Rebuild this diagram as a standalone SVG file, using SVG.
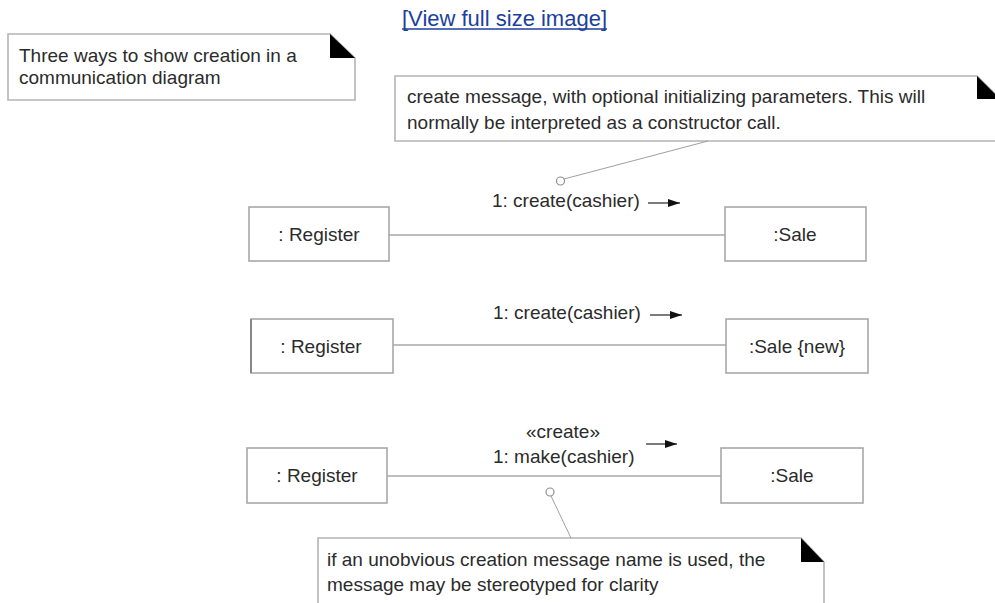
<svg xmlns="http://www.w3.org/2000/svg" width="995" height="603" viewBox="0 0 995 603">
<defs>
<style>
text{font-family:"Liberation Sans",Arial,sans-serif;font-size:19px;fill:#2b2b2b}
.box{fill:#fff;stroke:#a8a8a8;stroke-width:1.6}
.note{fill:#fff;stroke:#b4b4b4;stroke-width:1.6}
.fold{fill:#000}
.link{stroke:#a8a8a8;stroke-width:1.6;fill:none}
.anchor{stroke:#a0a0a0;stroke-width:1;fill:none}
.dot{fill:#fff;stroke:#909090;stroke-width:1.2}
.msg{stroke:#333;stroke-width:1.3}
.ctr{text-anchor:middle}
</style>
<marker id="ah" viewBox="0 0 12 8" refX="12" refY="4" markerWidth="12" markerHeight="8" markerUnits="userSpaceOnUse" orient="auto">
<path d="M0,0 L12,4 L0,8 Z" fill="#111"/>
</marker>
</defs>
<rect width="995" height="603" fill="#fff"/>

<g id="view-link">
<text x="402" y="26" style="font-size:22px;fill:#1c3f9e">[View full size image]</text>
<line x1="402" y1="29" x2="607" y2="29" stroke="#1c3f9e" stroke-width="1.3"/>
</g>

<g id="note-title">
<path class="note" d="M8,34 H330 L355,58 V100 H8 Z"/>
<path class="fold" d="M330,34 V58 H355 Z"/>
<text x="19" y="62">Three ways to show creation in a</text>
<text x="19" y="84">communication diagram</text>
</g>

<g id="note-create">
<path class="note" d="M395,76 H977 L1000,99 V141 H395 Z"/>
<path class="fold" d="M977,76 V99 H1000 Z"/>
<text x="407" y="103">create message, with optional initializing parameters. This will</text>
<text x="407" y="129">normally be interpreted as a constructor call.</text>
</g>

<g id="note-stereotype">
<path class="note" d="M318,538 H801 L824,562 V612 H318 Z"/>
<path class="fold" d="M801,538 V562 H824 Z"/>
<text x="327" y="566">if an unobvious creation message name is used, the</text>
<text x="327" y="591">message may be stereotyped for clarity</text>
</g>

<g id="register1"><rect class="box" x="249" y="207" width="140" height="54"/><text class="ctr" x="319" y="241">: Register</text></g>
<g id="sale1"><rect class="box" x="725" y="207" width="141" height="54"/><text class="ctr" x="795" y="241">:Sale</text></g>

<g id="register2"><rect class="box" x="251" y="319" width="142" height="54"/><line x1="251" y1="319" x2="251" y2="373" stroke="#888" stroke-width="2"/><text class="ctr" x="321" y="353">: Register</text></g>
<g id="sale2"><rect class="box" x="726" y="319" width="142" height="54"/><text class="ctr" x="797" y="353">:Sale {new}</text></g>

<g id="register3"><rect class="box" x="247" y="448" width="140" height="55"/><text class="ctr" x="317" y="482">: Register</text></g>
<g id="sale3"><rect class="box" x="721" y="448" width="142" height="55"/><text class="ctr" x="792" y="482">:Sale</text></g>

<g id="connectors">
<line class="link" x1="389" y1="235" x2="725" y2="235"/>
<line class="link" x1="393" y1="345" x2="726" y2="345"/>
<line class="link" x1="387" y1="476" x2="721" y2="476"/>

<line class="anchor" x1="564" y1="179" x2="708" y2="141"/>
<circle class="dot" cx="560.5" cy="181" r="4"/>
<line class="anchor" x1="551" y1="496" x2="571" y2="538"/>
<circle class="dot" cx="550" cy="492" r="4"/>

<line class="msg" x1="648" y1="203" x2="680" y2="203" marker-end="url(#ah)"/>
<line class="msg" x1="650" y1="315" x2="682" y2="315" marker-end="url(#ah)"/>
<line class="msg" x1="646" y1="444" x2="677" y2="444" marker-end="url(#ah)"/>

<text x="492" y="207">1: create(cashier)</text>
<text x="493" y="319">1: create(cashier)</text>
<text class="ctr" x="563" y="438">«create»</text>
<text x="493" y="463">1: make(cashier)</text>
</g>
</svg>
